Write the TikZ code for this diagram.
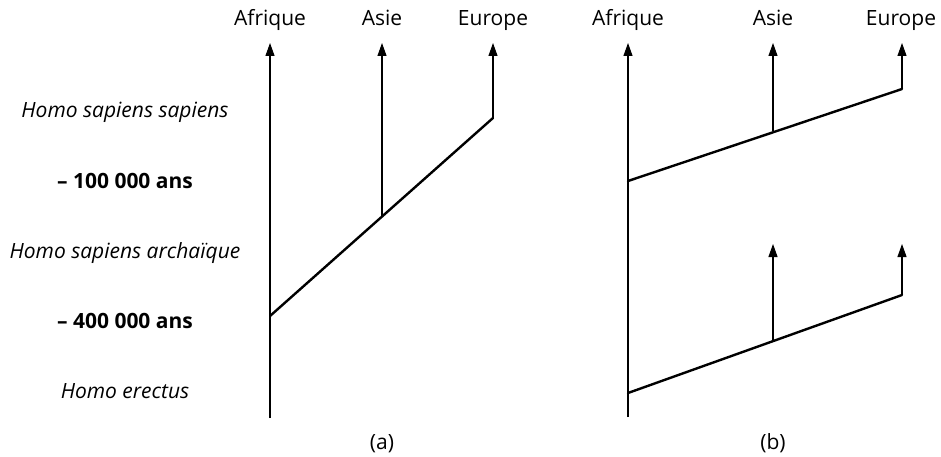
\documentclass[tikz,border=0pt]{standalone}
\usepackage{fontspec}
\setmainfont{Open Sans}
\usetikzlibrary{arrows.meta}
\begin{document}
\begin{tikzpicture}[x=1pt,y=-1pt,
  lbl/.style={font=\fontsize{21}{25}\selectfont, inner sep=0pt, anchor=base},
  era/.style={font=\fontsize{21}{25}\selectfont\itshape, inner sep=0pt, anchor=base},
  date/.style={font=\fontsize{21}{25}\selectfont\bfseries, inner sep=0pt, anchor=base},
  thin/.style={line width=1.1pt},
  branch/.style={line width=2.4pt},
  arr/.style={thin,-{Triangle[width=9pt,length=13pt]}}]
\useasboundingbox (0,0) rectangle (941,457);
% left labels
\node[era]  (hss) at (125,118) {Homo sapiens sapiens};
\node[date] (d1)  at (125,189) {– 100 000 ans};
\node[era]  (hsa) at (125,258) {Homo sapiens archaïque};
\node[date] (d4)  at (125,328) {– 400 000 ans};
\node[era]  (he)  at (125,398) {Homo erectus};
% panel a
\node[lbl] (aAf) at (270,26) {Afrique};
\node[lbl] (aAs) at (382,26) {Asie};
\node[lbl] (aEu) at (493,26) {Europe};
\coordinate (aAfb) at (270,418);
\coordinate (aAft) at (270,43);
\coordinate (aAst) at (382,43);
\coordinate (aEut) at (493,43);
\coordinate (aRoot) at (270,316);
\coordinate (aAsj) at (382,216.5);
\coordinate (aEuj) at (493,118);
\draw[arr] (aAfb) -- (aAft);
\draw[arr] (aAsj) -- (aAst);
\draw[arr] (aEuj) -- (aEut);
\draw[branch,line cap=round] (aRoot) -- (aEuj);
\node[lbl] (la) at (382,449) {(a)};
% panel b
\node[lbl] (bAf) at (628,26) {Afrique};
\node[lbl] (bAs) at (773,26) {Asie};
\node[lbl] (bEu) at (901,26) {Europe};
\coordinate (bAfb) at (628,417);
\coordinate (bAft) at (628,43);
\draw[arr] (bAfb) -- (bAft);
% upper
\coordinate (bR1) at (628,181);
\coordinate (bAs1) at (773,131);
\coordinate (bEu1) at (902,89);
\coordinate (bAs1t) at (773,43);
\coordinate (bEu1t) at (902,43);
\draw[arr] (bAs1) -- (bAs1t);
\draw[arr] (bEu1) -- (bEu1t);
\draw[branch,line cap=round] (bR1) -- (bEu1);
% lower
\coordinate (bR2) at (628,393);
\coordinate (bAs2) at (773,340);
\coordinate (bEu2) at (902,295);
\coordinate (bAs2t) at (773,244);
\coordinate (bEu2t) at (902,244);
\draw[arr] (bAs2) -- (bAs2t);
\draw[arr] (bEu2) -- (bEu2t);
\draw[branch,line cap=round] (bR2) -- (bEu2);
\node[lbl] (lb) at (773,449) {(b)};
\end{tikzpicture}
\end{document}
